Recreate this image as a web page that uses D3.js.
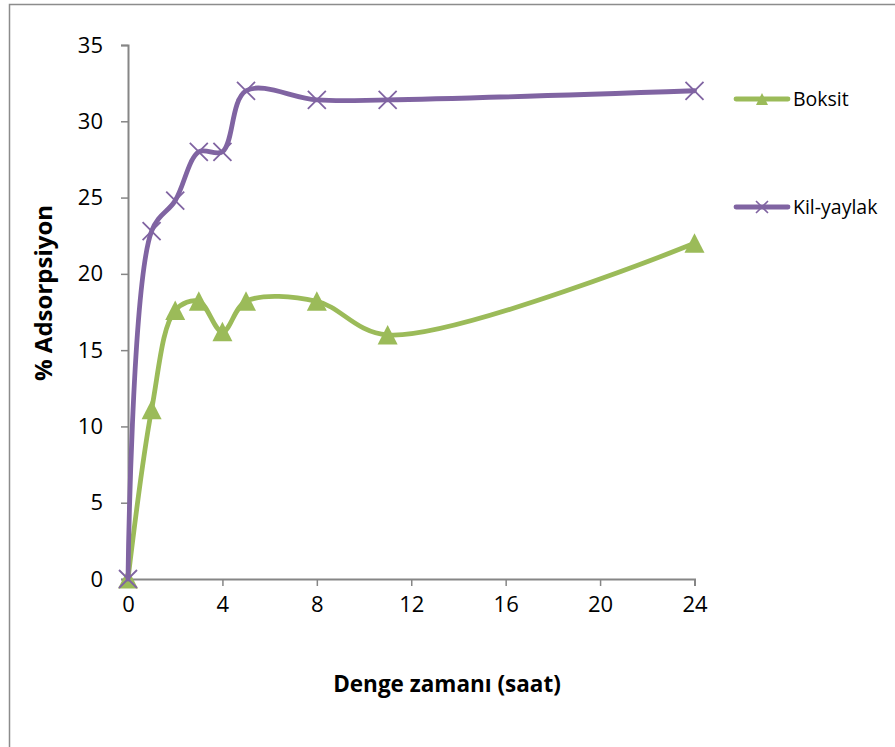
<!DOCTYPE html>
<html>
<head>
<meta charset="utf-8">
<script src="https://cdn.jsdelivr.net/npm/d3@7"></script>
<style>
  body { margin: 0; background: #fff; }
  svg { display: block; font-family: "Open Sans", "Noto Sans", sans-serif; }
</style>
</head>
<body>
<svg width="895" height="747"></svg>
<script>
// chart data
const hours = [0, 1, 2, 3, 4, 5, 8, 11, 24];
const boksit = [0, 11.1, 17.6, 18.2, 16.2, 18.2, 18.2, 16.0, 22.0];
const kilYaylak = [0, 22.8, 24.8, 28.0, 28.0, 32.0, 31.4, 31.4, 32.0];
const xTicks = [0, 4, 8, 12, 16, 20, 24];
const yTicks = [0, 5, 10, 15, 20, 25, 30, 35];
const seriesNames = ["Boksit", "Kil-yaylak"];

const purple = "#8064a2";
const green = "#9bbb59";

const svg = d3.select("svg");

// outer frame
svg.append("rect")
  .attr("x", 9.5).attr("y", 4.5)
  .attr("width", 900).attr("height", 760)
  .attr("fill", "none").attr("stroke", "#8c8c8c").attr("stroke-width", 1.5);

let x = d3.scaleLinear().domain([0, 24]).range([128, 694.5]);
let y = d3.scaleLinear().domain([0, 35]).range([579, 45]);

// x axis
let xAxis = svg.append("g")
  .attr("transform", "translate(0,579)")
  .call(d3.axisBottom(x).tickValues(xTicks).tickSizeOuter(0).tickSize(7).tickPadding(10));
xAxis.select(".domain").attr("stroke", "#868686").attr("stroke-width", 2);
xAxis.selectAll(".tick line").attr("stroke", "#868686").attr("stroke-width", 1.5);
xAxis.selectAll(".tick text").attr("font-size", 22).attr("fill", "#000")
  .attr("font-family", "'Open Sans', sans-serif");

// y axis
let yAxis = svg.append("g")
  .attr("transform", "translate(128,0)")
  .call(d3.axisLeft(y).tickValues(yTicks).tickSizeOuter(0).tickSize(7).tickPadding(18));
yAxis.select(".domain").attr("stroke", "#868686").attr("stroke-width", 2);
yAxis.selectAll(".tick line").attr("stroke", "#868686").attr("stroke-width", 1.5);
yAxis.selectAll(".tick text").attr("font-size", 22).attr("fill", "#000")
  .attr("font-family", "'Open Sans', sans-serif");

// axis titles
svg.append("text")
  .attr("x", 447).attr("y", 692)
  .attr("text-anchor", "middle")
  .attr("font-size", 22.5).attr("font-weight", "bold")
  .text("Denge zamanı (saat)");

svg.append("text")
  .attr("transform", "translate(52,293) rotate(-90)")
  .attr("text-anchor", "middle")
  .attr("font-size", 24).attr("font-weight", "bold")
  .text("% Adsorpsiyon");

let line = d3.line()
  .x((d) => x(d[0]))
  .y((d) => y(d[1]))
  .curve(d3.curveCatmullRom.alpha(0.5));

function drawSeries(values, color, kind) {
  let pts = hours.map((h, i) => [h, values[i]]);
  svg.append("path")
    .datum(pts)
    .attr("d", line)
    .attr("fill", "none")
    .attr("stroke", color)
    .attr("stroke-width", 4.8)
    .attr("stroke-linejoin", "round")
    .attr("stroke-linecap", "round");

  let g = svg.append("g");
  if (kind === "tri") {
    g.selectAll("path")
      .data(pts)
      .enter()
      .append("path")
      .attr("d", "M0,-10L10,9.5L-10,9.5Z")
      .attr("transform", (d) => "translate(" + x(d[0]) + "," + y(d[1]) + ")")
      .attr("fill", color);
  } else {
    g.selectAll("path")
      .data(pts)
      .enter()
      .append("path")
      .attr("d", "M-9,-9L9,9M-9,9L9,-9")
      .attr("transform", (d) => "translate(" + x(d[0]) + "," + y(d[1]) + ")")
      .attr("stroke", color)
      .attr("stroke-width", 1.8)
      .attr("fill", "none");
  }
}

drawSeries(boksit, green, "tri");
drawSeries(kilYaylak, purple, "x");

// legend
const legendY = [99, 207];
const legendColor = [green, purple];
seriesNames.forEach((name, i) => {
  let g = svg.append("g").attr("transform", "translate(0," + legendY[i] + ")");
  g.append("line")
    .attr("x1", 736).attr("x2", 788).attr("y1", 0).attr("y2", 0)
    .attr("stroke", legendColor[i]).attr("stroke-width", 4.8)
    .attr("stroke-linecap", "round");
  if (i === 0) {
    g.append("path")
      .attr("d", "M0,-6L6,6L-6,6Z")
      .attr("transform", "translate(762,0)")
      .attr("fill", green);
  } else {
    g.append("path")
      .attr("d", "M-6,-6L6,6M-6,6L6,-6")
      .attr("transform", "translate(762,0)")
      .attr("stroke", purple).attr("stroke-width", 1.6);
  }
  g.append("text")
    .attr("x", 793).attr("y", 7)
    .attr("font-size", 19.5)
    .attr("fill", "#000")
    .text(name);
});
</script>
</body>
</html>
